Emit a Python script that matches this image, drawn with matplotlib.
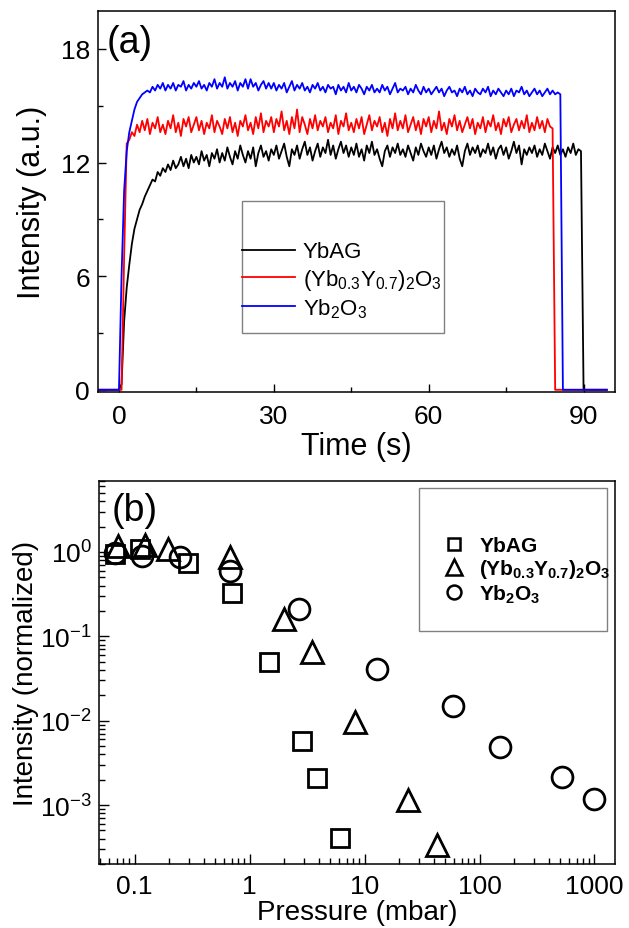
import numpy as np
import matplotlib
matplotlib.use('Agg')
import matplotlib.pyplot as plt
from matplotlib.lines import Line2D
from matplotlib.patches import Rectangle
from matplotlib.ticker import MultipleLocator, LogLocator, FuncFormatter, NullFormatter

plt.rcParams['font.family'] = ['Liberation Sans', 'DejaVu Sans']
plt.rcParams['mathtext.fontset'] = 'custom'
plt.rcParams['mathtext.rm'] = 'Liberation Sans'
plt.rcParams['mathtext.it'] = 'Liberation Sans:italic'
plt.rcParams['mathtext.bf'] = 'Liberation Sans:bold'

# ---- (a) intensity vs time, sampled every 0.5 s from -5 s ----
tempo = np.arange(-5, 95, 0.5)

ybag_t = [
    0, 0, 0, 0, 0, 0, 0, 0, 0, 0,
    0.0, 0.3, 3.6, 5.4, 6.6, 7.7, 8.5, 9.0, 9.5, 9.8,
    10.2, 10.5, 10.8, 11.1, 11.0, 11.5, 11.3, 11.7, 11.5, 11.9,
    11.6, 12.1, 11.7, 11.9, 12.3, 11.8, 12.2, 11.7, 12.4, 12.0,
    12.3, 11.9, 12.6, 12.1, 12.4, 11.8, 12.5, 12.2, 12.7, 12.0,
    12.5, 12.1, 12.8, 12.3, 11.9, 12.6, 12.2, 12.9, 12.4, 12.0,
    12.6, 12.2, 12.8, 11.8, 12.5, 12.9, 12.3, 12.6, 12.1, 12.7,
    12.4, 12.9, 12.2, 12.6, 13.0, 12.3, 11.8, 12.7, 12.4, 12.9,
    12.2, 12.7, 13.1, 12.4, 12.8, 12.1, 12.6, 13.0, 12.3, 12.8,
    12.5, 13.2, 12.4, 12.9, 12.2, 12.7, 13.1, 12.5, 12.9, 12.3,
    12.8, 12.4, 13.0, 12.3, 12.7, 12.1, 12.9, 12.5, 13.1, 12.4,
    12.7, 12.2, 11.8, 12.6, 12.9, 12.3, 12.8, 12.5, 13.0, 12.4,
    12.7, 12.3, 12.9, 12.5, 12.1, 12.8, 12.4, 13.0, 12.6, 12.3,
    12.8, 12.4, 12.9, 12.2, 12.7, 13.1, 12.5, 12.8, 12.3, 12.7,
    12.4, 12.9, 12.2, 11.8, 12.6, 13.0, 12.4, 12.8, 12.5, 12.9,
    12.3, 12.7, 12.5, 13.0, 12.4, 12.8, 12.2, 12.7, 12.9, 12.4,
    12.8, 12.2, 12.6, 13.1, 12.5, 12.9, 11.9, 12.7, 12.4, 12.8,
    12.5, 12.9, 12.3, 12.7, 12.4, 13.0, 12.6, 12.2, 12.8, 12.5,
    12.9, 12.4, 12.7, 12.3, 12.8, 12.5, 13.0, 12.4, 12.7, 12.6,
    0, 0, 0, 0, 0, 0, 0, 0, 0, 0,
]

ybyo_t = [
    0, 0, 0, 0, 0, 0, 0, 0, 0, 0,
    0.0, 0.0, 7.0, 13.0, 13.2, 13.6, 13.4, 14.0, 13.6, 14.2,
    13.7, 14.3, 13.5, 14.1, 13.8, 14.4, 13.6, 14.0, 13.5, 14.2,
    13.8, 14.5, 13.6, 14.1, 13.4, 14.3, 13.9, 14.4, 13.6, 14.0,
    14.4, 13.7, 14.2, 13.5, 14.1, 13.8, 14.5, 13.6, 14.2, 13.9,
    13.5, 14.3, 13.8, 14.4, 13.6, 14.1, 13.4, 14.2, 13.9, 14.5,
    13.7, 14.1, 13.5, 14.4, 13.8, 14.6, 13.6, 14.2, 13.9, 14.4,
    13.6, 14.3, 13.9, 14.7, 13.7, 14.2, 13.5, 14.4, 13.8, 14.8,
    13.6, 14.4, 14.0, 13.5, 14.3, 13.8, 14.5, 13.7, 14.2, 13.9,
    14.4, 13.6, 14.1, 13.8, 14.5, 13.5, 14.2, 13.9, 14.6, 13.7,
    14.1, 13.6, 14.3, 13.8, 14.4, 13.5, 14.0, 14.5, 13.7, 14.2,
    13.9, 14.4, 13.6, 14.1, 13.4, 14.3, 13.8, 14.6, 13.7, 14.2,
    13.8, 14.5, 13.6, 14.0, 14.4, 13.7, 14.2, 13.5, 14.3, 13.9,
    14.4, 13.6, 14.2, 13.8, 14.7, 13.7, 14.1, 13.5, 14.3, 13.9,
    14.5, 13.7, 14.2, 13.6, 14.0, 14.4, 13.8, 14.3, 13.5, 14.1,
    13.8, 14.4, 13.6, 14.2, 13.9, 14.5, 13.7, 14.1, 13.5, 14.3,
    13.9, 14.4, 13.6, 14.0, 14.3, 13.7, 14.2, 13.8, 14.5, 13.6,
    14.1, 13.7, 14.4, 13.8, 14.2, 13.6, 14.3, 13.9, 13.8, 0.0,
    0, 0, 0, 0, 0, 0, 0, 0, 0, 0,
    0, 0, 0, 0, 0, 0, 0, 0, 0, 0,
]

yb2o3_t = [
    0, 0, 0, 0, 0, 0, 0, 0, 0, 0,
    0.0, 6.0, 10.5, 12.6, 13.6, 14.2, 14.8, 15.2, 15.4, 15.6,
    15.7, 15.8, 15.7, 16.0, 15.8, 16.1, 15.9, 16.2, 15.8, 16.1,
    15.9, 16.2, 15.8, 16.1, 16.0, 16.3, 15.8, 16.1, 15.9, 16.2,
    16.0, 16.3, 15.9, 16.1, 15.8, 16.2, 16.0, 16.4, 15.9, 16.2,
    16.0, 16.5, 15.9, 16.2, 16.0, 16.3, 15.8, 16.2, 16.0, 16.4,
    15.9, 16.4, 16.0, 16.2, 15.8, 16.1, 16.3, 15.9, 16.2, 15.9,
    16.2, 15.8, 16.1, 15.9, 16.2, 15.7, 16.0, 16.3, 15.8, 16.1,
    15.9, 16.2, 15.8, 16.0, 15.7, 16.1, 15.9, 16.2, 15.8, 16.0,
    15.7, 16.1, 15.9, 16.0, 15.6, 16.1, 15.8, 16.0, 15.7, 16.2,
    15.8, 16.0, 15.7, 16.1, 15.9, 15.6, 16.0, 15.8, 16.1, 15.7,
    15.9, 15.7, 16.1, 15.8, 16.0, 15.6, 15.9, 16.2, 15.7, 15.9,
    15.8, 16.0, 15.6, 15.9, 15.7, 16.1, 15.8, 15.6, 16.0, 15.7,
    15.9, 15.6, 15.8, 16.0, 15.7, 15.9, 15.5, 15.8, 16.0, 15.7,
    15.8, 15.5, 15.9, 15.7, 16.0, 15.6, 15.8, 15.5, 15.9, 15.7,
    15.6, 15.9, 15.7, 16.0, 15.5, 15.8, 15.6, 15.9, 15.7, 15.5,
    15.8, 15.6, 15.9, 15.5, 15.8, 15.7, 16.0, 15.6, 15.8, 15.5,
    15.7, 15.9, 15.6, 15.8, 15.5, 15.7, 15.9, 15.6, 15.8, 15.6,
    15.7, 15.6, 0, 0, 0, 0, 0, 0, 0, 0,
    0, 0, 0, 0, 0, 0, 0, 0, 0, 0,
]

# ---- (b) normalized intensity vs pressure ----
p_ybag = [0.068, 0.112, 0.29, 0.71, 1.48, 2.85, 3.84, 6.1]
i_ybag = [0.95, 1.08, 0.75, 0.33, 0.05, 0.0058, 0.0021, 0.00041]
p_ybyo = [0.072, 0.123, 0.197, 0.676, 2.0, 3.47, 8.24, 24, 43]
i_ybyo = [1.17, 1.2, 1.09, 0.88, 0.16, 0.065, 0.0096, 0.00114, 0.00034]
p_yb2o3 = [0.068, 0.116, 0.249, 0.676, 2.69, 12.8, 59.3, 151, 525, 1000]
i_yb2o3 = [0.97, 0.89, 0.87, 0.60, 0.21, 0.0415, 0.015, 0.00485, 0.00216, 0.00119]

nomes = ['YbAG', r'(Yb$_{0.3}$Y$_{0.7}$)$_2$O$_3$', r'Yb$_2$O$_3$']
nomes_bold = ['YbAG', r'(Yb$_{\mathbf{0.3}}$Y$_{\mathbf{0.7}}$)$_{\mathbf{2}}$O$_{\mathbf{3}}$',
              r'Yb$_{\mathbf{2}}$O$_{\mathbf{3}}$']
cores = ['black', '#ff0000', '#0000ff']

fig = plt.figure(figsize=(6.29, 9.29), dpi=100)

# painel (a)
ax1 = fig.add_axes([0.1563, 0.5773, 0.8207, 0.4098])
for y, c, n in zip([ybag_t, ybyo_t, yb2o3_t], cores, nomes):
    ax1.plot(tempo, y, color=c, lw=1.3, label=n)
ax1.set_xlim(-4, 96)
ax1.set_ylim(-0.1, 20)
ax1.xaxis.set_major_locator(MultipleLocator(30))
ax1.xaxis.set_minor_locator(MultipleLocator(15))
ax1.yaxis.set_major_locator(MultipleLocator(6))
ax1.yaxis.set_minor_locator(MultipleLocator(3))
ax1.tick_params(which='both', direction='in', top=False, right=False, width=1)
ax1.tick_params(which='major', length=6, labelsize=19)
ax1.tick_params(which='minor', length=3.5)
ax1.tick_params(axis='x', pad=9)
ax1.tick_params(axis='y', pad=6)
ax1.set_xlabel('Time (s)', fontsize=22, labelpad=2)
ax1.set_ylabel('Intensity (a.u.)', fontsize=22, labelpad=10)
ax1.text(0.016, 0.9186, '(a)', transform=ax1.transAxes, fontsize=27, va='center', ha='left')
ax1.add_patch(Rectangle((0.2774, 0.1534), 0.3913, 0.3475, transform=ax1.transAxes,
                        fill=False, edgecolor='#808080', lw=1))
ax1.legend(loc='upper left', bbox_to_anchor=(0.278, 0.395), frameon=False, fontsize=16,
           handlelength=2.4, handletextpad=0.35, labelspacing=0.2, borderpad=0, borderaxespad=0)

# painel (b)
ax2 = fig.add_axes([0.1574, 0.0689, 0.8199, 0.4126])
ax2.plot(p_ybag, i_ybag, 's', ms=13, mfc='none', mec='black', mew=2)
ax2.plot(p_ybyo, i_ybyo, '^', ms=16, mfc='none', mec='black', mew=2)
ax2.plot(p_yb2o3, i_yb2o3, 'o', ms=15, mfc='none', mec='black', mew=2)
ax2.set_xscale('log')
ax2.set_yscale('log')
ax2.set_xlim(0.049, 1500)
ax2.set_ylim(2e-4, 7)
ax2.xaxis.set_major_formatter(FuncFormatter(lambda v, _: '%g' % v))
ax2.xaxis.set_minor_locator(LogLocator(base=10, subs=np.arange(2, 10), numticks=20))
ax2.xaxis.set_minor_formatter(NullFormatter())
ax2.yaxis.set_minor_locator(LogLocator(base=10, subs=np.arange(2, 10), numticks=20))
ax2.yaxis.set_minor_formatter(NullFormatter())
ax2.tick_params(which='both', direction='in', top=False, right=False, width=1)
ax2.tick_params(which='major', length=7, labelsize=19)
ax2.tick_params(which='minor', length=4)
ax2.tick_params(axis='x', pad=7)
ax2.tick_params(axis='y', pad=5)
ax2.set_xlabel('Pressure (mbar)', fontsize=20, labelpad=1)
ax2.set_ylabel('Intensity (normalized)', fontsize=20, labelpad=1)
ax2.text(0.0246, 0.9236, '(b)', transform=ax2.transAxes, fontsize=27, va='center', ha='left')
ax2.add_patch(Rectangle((0.621, 0.6087), 0.3635, 0.3713, transform=ax2.transAxes,
                        fill=False, edgecolor='#808080', lw=1))
proxies = [Line2D([], [], ls='none', marker='s', ms=9, mfc='none', mec='black', mew=1.8),
           Line2D([], [], ls='none', marker='^', ms=12, mfc='none', mec='black', mew=1.8),
           Line2D([], [], ls='none', marker='o', ms=10, mfc='none', mec='black', mew=1.8)]
ax2.legend(proxies, nomes_bold, loc='upper left', bbox_to_anchor=(0.665, 0.855), frameon=False,
           prop={'size': 15, 'weight': 'bold'}, handlelength=1.2, handletextpad=0.6,
           labelspacing=0.1, borderpad=0, borderaxespad=0)

for ax in (ax1, ax2):
    for s in ax.spines.values():
        s.set_linewidth(1.1)

fig.savefig('out.png', dpi=100)
